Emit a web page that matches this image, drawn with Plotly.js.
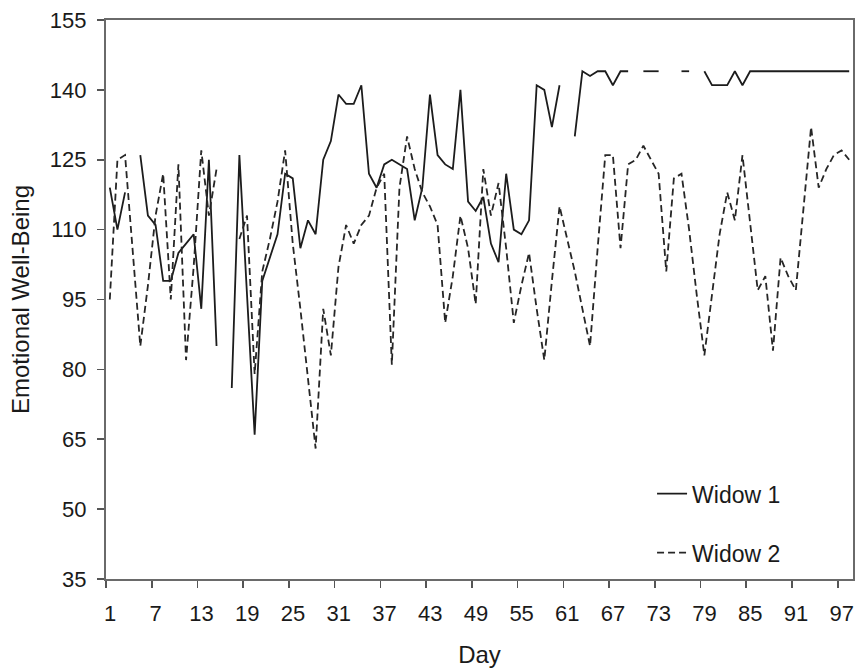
<!DOCTYPE html>
<html>
<head>
<meta charset="utf-8">
<script src="https://cdn.plot.ly/plotly-3.0.1.min.js"></script>
<style>
  html, body { margin: 0; padding: 0; background: #ffffff; }
  #chart { width: 858px; height: 671px; }
</style>
</head>
<body>
<div id="chart"></div>
<script>
// ---- data ----
const days = Array.from({length: 98}, (_, i) => i + 1);

const widow1 = [
  119, 110, 118, null, 126, 113, 111, 99, 99, 105,
  107, 109, 93, 125, 85, null, 76, 126, 96, 66,
  99, 104, 109, 122, 121, 106, 112, 109, 125, 129,
  139, 137, 137, 141, 122, 119, 124, 125, 124, 123,
  112, 119, 139, 126, 124, 123, 140, 116, 114, 117,
  107, 103, 122, 110, 109, 112, 141, 140, 132, 141,
  null, 130, 144, 143, 144, 144, 141, 144, 144, null,
  144, 144, 144, null, null, 144, 144, null, 144, 141,
  141, 141, 144, 141, 144, 144, 144, 144, 144, 144,
  144, 144, 144, 144, 144, 144, 144, 144
];

const widow2 = [
  95, 125, 126, 105, 85, 98, 113, 122, 95, 124,
  82, 102, 127, 113, 123, null, null, 108, 113, 79,
  101, 108, 116, 127, 107, 93, 78, 63, 93, 83,
  102, 111, 107, 111, 113, 119, 122, 81, 119, 130,
  123, 118, 115, 111, 90, 100, 113, 106, 94, 123,
  113, 120, 106, 90, 98, 105, 93, 82, 99, 115,
  108, 101, 93, 85, 106, 126, 126, 106, 124, 125,
  128, 125, 122, 101, 121, 122, 110, 96, 83, 96,
  109, 118, 112, 126, 112, 97, 100, 84, 104, 100,
  97, 115, 132, 119, 123, 126, 127, 125
];

const seriesNames = ['Widow 1', 'Widow 2'];
const tickDays = [1, 7, 13, 19, 25, 31, 37, 43, 49, 55, 61, 67, 73, 79, 85, 91, 97];
const yTicks = [35, 50, 65, 80, 95, 110, 125, 140, 155];

// ---- chart ----
const FONT = '"Liberation Sans", Arial, sans-serif';
const INK = '#1a1a1a';

const traces = [
  {
    x: days, y: widow1, name: seriesNames[0], type: 'scatter', mode: 'lines',
    connectgaps: false, legendgroup: 'a',
    line: {color: '#1c1c1c', width: 1.8, dash: 'solid'}
  },
  {
    x: days, y: widow2, name: seriesNames[1], type: 'scatter', mode: 'lines',
    connectgaps: false, legendgroup: 'b',
    line: {color: '#262626', width: 1.8, dash: '7px,4px'}
  }
];

const layout = {
  width: 858, height: 671,
  margin: {l: 106, r: 5, t: 20, b: 92},
  paper_bgcolor: '#ffffff', plot_bgcolor: '#ffffff',
  font: {family: FONT, size: 22, color: INK},
  showlegend: true,
  legend: {
    x: 0.731, y: 0.191, xanchor: 'left', yanchor: 'top',
    bgcolor: 'rgba(0,0,0,0)', borderwidth: 0,
    font: {family: FONT, size: 23, color: INK},
    tracegroupgap: 26, itemwidth: 30
  },
  xaxis: {
    type: 'linear', range: [0.5, 98.5],
    tickmode: 'array',
    tickvals: tickDays.map(d => d - 0.5),
    ticktext: tickDays.map(String),
    ticklabelshift: 4,
    ticklabelstandoff: 6,
    ticks: 'outside', ticklen: 7, tickwidth: 1.6, tickcolor: '#555',
    showline: true, linecolor: '#6a6a6a', linewidth: 2.2, mirror: true,
    showgrid: false, zeroline: false,
    tickfont: {family: FONT, size: 22, color: INK},
    title: {text: 'Day', font: {family: FONT, size: 24, color: INK}, standoff: 22}
  },
  yaxis: {
    range: [35, 155],
    tickmode: 'array', tickvals: yTicks, ticktext: yTicks.map(String),
    ticklabelstandoff: 6,
    ticks: 'outside', ticklen: 7, tickwidth: 1.6, tickcolor: '#555',
    showline: true, linecolor: '#6a6a6a', linewidth: 2.2, mirror: true,
    showgrid: false, zeroline: false,
    tickfont: {family: FONT, size: 22, color: INK},
    title: {text: 'Emotional Well-Being', font: {family: FONT, size: 24, color: INK}, standoff: 13}
  }
};

Plotly.newPlot('chart', traces, layout, {staticPlot: true, displayModeBar: false});
</script>
</body>
</html>
